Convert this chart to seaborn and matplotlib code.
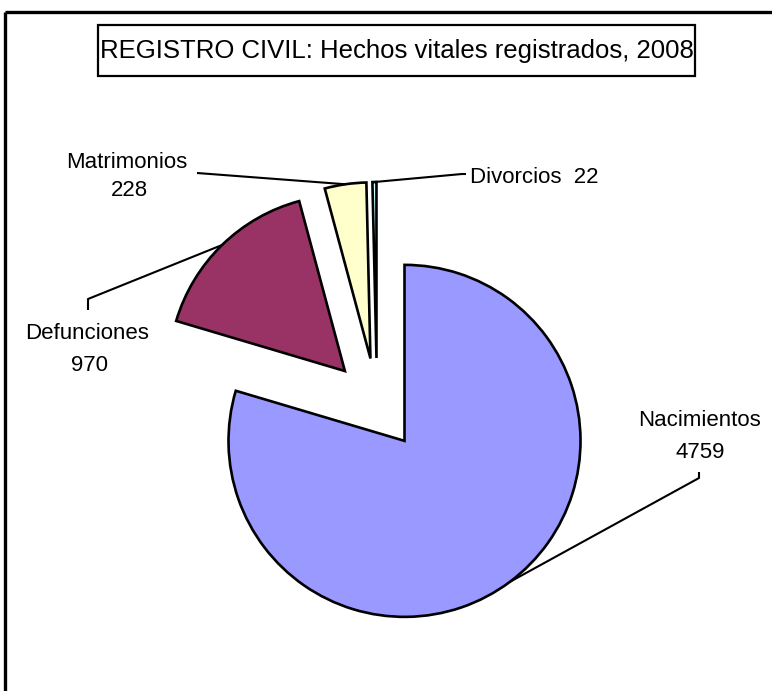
import matplotlib
matplotlib.use('Agg')
import numpy as np
import matplotlib.pyplot as plt
import matplotlib.patches as mpatches
import seaborn as sns

# Data
categories = ['Nacimientos', 'Defunciones', 'Matrimonios', 'Divorcios']
values = [4759, 970, 228, 22]
colors = ['#9999FF', '#993366', '#FFFFCC', '#CCFFFF']
title = 'REGISTRO CIVIL: Hechos vitales registrados, 2008'

sns.set_theme(style='white')
plt.rcParams['font.family'] = ['Liberation Sans', 'DejaVu Sans']

# work in pixel units, y measured from the top
W, H = 772, 691
fig = plt.figure(figsize=(W / 100, H / 100), dpi=100)
ax = fig.add_axes([0, 0, 1, 1])

def py(y):
    return H - y

wedges, _ = ax.pie(values, colors=colors, explode=[46] * len(values), radius=176,
                   center=(377, py(404)), startangle=90, counterclock=False,
                   wedgeprops=dict(edgecolor='black', linewidth=1.9), frame=True)
ax.set_xlim(0, W)
ax.set_ylim(0, H)
ax.set_aspect('auto')
ax.axis('off')

# leader lines: from the middle of each wedge's arc to an elbow near the label
elbows = {'Nacimientos': [(699, 478), (699, 472)],
          'Defunciones': [(88, 299), (88, 310)],
          'Matrimonios': [(197, 173)],
          'Divorcios': [(462, 174), (466, 174)]}
for w, cat in zip(wedges, categories):
    mid = np.deg2rad((w.theta1 + w.theta2) / 2)
    x0 = w.center[0] + w.r * np.cos(mid)
    y0 = w.center[1] + w.r * np.sin(mid)
    xs = [x0] + [p[0] for p in elbows[cat]]
    ys = [y0] + [py(p[1]) for p in elbows[cat]]
    ax.plot(xs, ys, color='black', lw=1.5, solid_capstyle='butt')

# labels (name and value)
fs = 16
name_pos = {'Nacimientos': (699, 420), 'Defunciones': (87, 333),
            'Matrimonios': (127, 162)}
value_pos = {'Nacimientos': (700, 452), 'Defunciones': (89, 365),
             'Matrimonios': (129, 190)}
for cat, val in zip(categories, values):
    if cat == 'Divorcios':
        ax.text(470, py(177), f'{cat}  {val}', ha='left', va='center', fontsize=fs, color='black')
        continue
    nx, ny = name_pos[cat]
    vx, vy = value_pos[cat]
    ax.text(nx, py(ny), cat, ha='center', va='center', fontsize=fs, color='black')
    ax.text(vx, py(vy), str(val), ha='center', va='center', fontsize=fs, color='black')

# title in a box
ax.add_patch(mpatches.Rectangle((98, py(76)), 597, 51, fill=False, edgecolor='black', lw=1.6))
ax.text(397, py(51), title, ha='center', va='center', fontsize=18.5, color='black')

# chart frame (top and left edges visible)
ax.plot([5, W], [py(12), py(12)], color='black', lw=2.4, solid_capstyle='butt')
ax.plot([5, 5], [py(12), 0], color='black', lw=2.4, solid_capstyle='butt')

fig.savefig('out.png', dpi=100, facecolor='white')
